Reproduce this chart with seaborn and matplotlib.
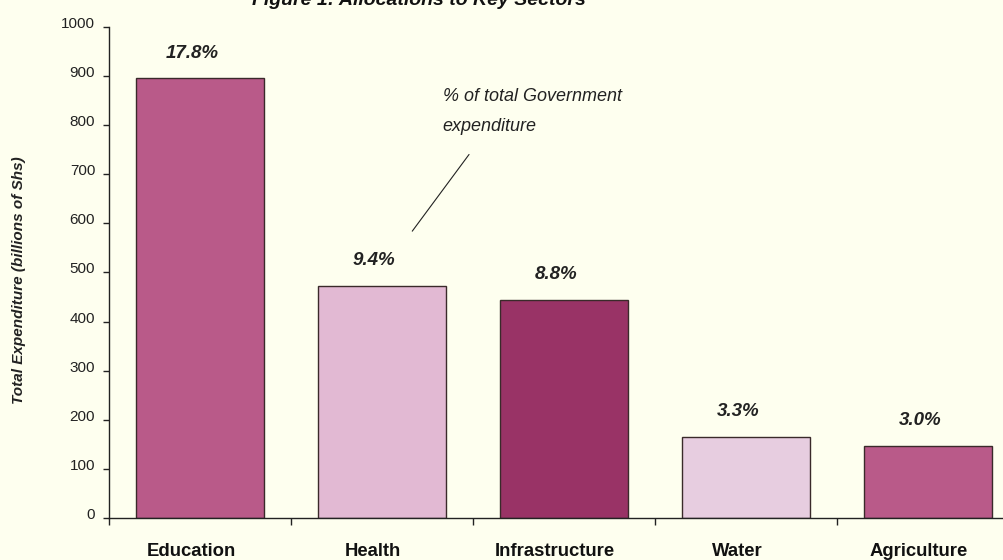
import matplotlib
matplotlib.use("Agg")
from matplotlib import pyplot as plt
from matplotlib.transforms import ScaledTranslation
import pandas as pd
import seaborn as sns

# values
sectors = ['Education', 'Health', 'Infrastructure', 'Water', 'Agriculture']
spending = [895, 473, 444, 166, 148]
share_labels = ['17.8%', '9.4%', '8.8%', '3.3%', '3.0%']
bar_colors = ['#B95A89', '#E2B9D3', '#993366', '#E7CDE0', '#B95A89']
y_ticks = [0, 100, 200, 300, 400, 500, 600, 700, 800, 900, 1000]

bg = '#FEFFEF'
df = pd.DataFrame({'sector': sectors, 'spend': spending})

sns.set_style('white')
plt.rcParams['font.family'] = ['Liberation Sans', 'DejaVu Sans']

fig = plt.figure(figsize=(10.04, 5.6), dpi=100, facecolor=bg)
ax = fig.add_axes([0.1086, 0.0745, 0.9064, 0.8779])
ax.set_facecolor(bg)

sns.barplot(data=df, x='sector', y='spend', hue='sector', palette=bar_colors,
            saturation=1, width=0.70, edgecolor='#3a2a2a', linewidth=1,
            legend=False, ax=ax)

ax.set_xlim(-0.5, 4.5)
ax.set_ylim(0, 1000)
ax.set_yticks(y_ticks)
ax.set_yticklabels([str(t) for t in y_ticks], fontsize=11, color='#222222')
ax.set_xticks([i - 0.5 for i in range(len(sectors))])
ax.set_xticklabels([''] * len(sectors))
ax.tick_params(axis='x', direction='out', length=5, width=1, color='#222222', bottom=True)
ax.tick_params(axis='y', direction='out', length=4.5, width=1, pad=5.5,
               color='#222222', left=True)
# tick labels sit a little above their ticks in the original
for tick in ax.yaxis.get_major_ticks():
    tick.label1.set_transform(tick.label1.get_transform()
                              + ScaledTranslation(0, 0.045, fig.dpi_scale_trans))

for i, s in enumerate(sectors):
    ax.text(i - 0.05, -68, s, ha='center', va='center', fontsize=13.3,
            fontweight='bold', color='#111111')

for side in ['top', 'right']:
    ax.spines[side].set_visible(False)
for side in ['left', 'bottom']:
    ax.spines[side].set_color('#222222')
    ax.spines[side].set_linewidth(1)

ax.set_xlabel('')
ax.set_ylabel('Total Expenditure (billions of Shs)', fontsize=11, fontstyle='italic',
              fontweight='bold', color='#222222')
ax.yaxis.set_label_coords(-0.091, 0.485)

for i, (v, lab) in enumerate(zip(spending, share_labels)):
    ax.text(i - 0.045, v + 51, lab, ha='center', va='center', fontsize=13.5,
            fontstyle='italic', fontweight='bold', color='#222222')

ax.text(1.333, 857, '% of total Government', ha='left', va='center', fontsize=13,
        fontstyle='italic', color='#222222')
ax.text(1.333, 796, 'expenditure', ha='left', va='center', fontsize=13,
        fontstyle='italic', color='#222222')
ax.plot([1.166, 1.478], [584, 740], color='#222222', linewidth=0.8)

fig.text(0.417, 0.991, 'Figure 1: Allocations to Key Sectors', ha='center', va='baseline',
         fontsize=14, fontweight='bold', fontstyle='italic', color='#111111')

fig.savefig('out.png', dpi=100, facecolor=bg)
